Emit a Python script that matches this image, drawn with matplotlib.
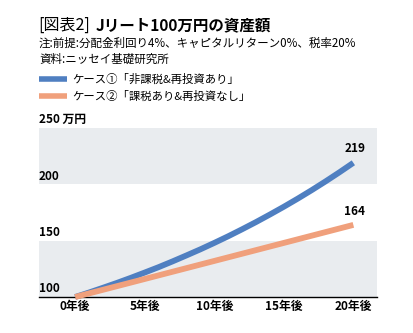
import matplotlib
matplotlib.use("Agg")
import matplotlib.pyplot as plt

plt.rcParams['font.family'] = ['Noto Sans CJK JP', 'DejaVu Sans']

years = list(range(21))
case1 = [100, 104, 108.2, 112.5, 117, 121.7, 126.5, 131.6, 136.9, 142.3, 148,
         153.9, 160.1, 166.5, 173.2, 180.1, 187.3, 194.8, 202.6, 210.7, 219.1]
case2_years = [0, 5, 10, 15, 20]
case2 = [100, 116, 132, 148, 164]
xticks = [0, 5, 10, 15, 20]
xlabels = ['0年後', '5年後', '10年後', '15年後', '20年後']
yticks = [100, 150, 200, 250]
ylabels = ['100', '150', '200', '250 万円']
labels = ['ケース①「非課税&再投資あり」', 'ケース②「課税あり&再投資なし」']
end_labels = ['219', '164']

blue = '#4f7fc1'
orange = '#f0a07c'
band = '#e9ecef'

W, H = 414, 333
fig = plt.figure(figsize=(W/100, H/100), dpi=100)
ax = fig.add_axes([39/W, 1-297/H, (377-39)/W, (297-128)/H])
ax.set_xlim(-2.6, 21.7)
ax.set_ylim(100, 250)
ax.axhspan(100, 150, color=band, zorder=0, lw=0)
ax.axhspan(200, 250, color=band, zorder=0, lw=0)
for s in ['top', 'right', 'left']:
    ax.spines[s].set_visible(False)
ax.spines['bottom'].set_color('black')
ax.spines['bottom'].set_linewidth(1.0)
ax.set_yticks([])
ax.set_xticks(xticks)
ax.set_xticklabels(xlabels, fontsize=8.5, fontweight='bold')
ax.tick_params(axis='x', length=0, pad=2)

ax.plot(case2_years, case2, color=orange, lw=4.2, solid_capstyle='butt', zorder=3, clip_on=False)
ax.plot(years, case1, color=blue, lw=4.2, solid_capstyle='butt', zorder=2, clip_on=False)

for v, lab in zip(yticks, ylabels):
    ax.text(-2.6, v + 1.5, lab, fontsize=8.5, fontweight='bold', ha='left', va='bottom')

ax.text(20.1, case1[-1] + 7, end_labels[0], fontsize=8.5, fontweight='bold', ha='center', va='bottom')
ax.text(20.1, case2[-1] + 6, end_labels[1], fontsize=8.5, fontweight='bold', ha='center', va='bottom')

# title
fig.text(38/W, 1-25/H, '[図表2]', fontsize=11.5, ha='left', va='center')
fig.text(96/W, 1-25/H, 'Jリート100万円の資産額', fontsize=11.2, fontweight='bold', ha='left', va='center')
fig.text(39/W, 1-43/H, '注:前提:分配金利回り4%、キャピタルリターン0%、税率20%', fontsize=8.3, ha='left', va='center')
fig.text(39/W, 1-59/H, '資料:ニッセイ基礎研究所', fontsize=8.3, ha='left', va='center')

# legend
for i, (lab, c) in enumerate(zip(labels, [blue, orange])):
    y = 1 - (79 + 17*i)/H
    fig.add_artist(plt.Line2D([39/W, 67/W], [y, y], color=c, lw=4, solid_capstyle='butt'))
    fig.text(72/W, y, lab, fontsize=8.2, ha='left', va='center')

fig.savefig('out.png', dpi=100)
